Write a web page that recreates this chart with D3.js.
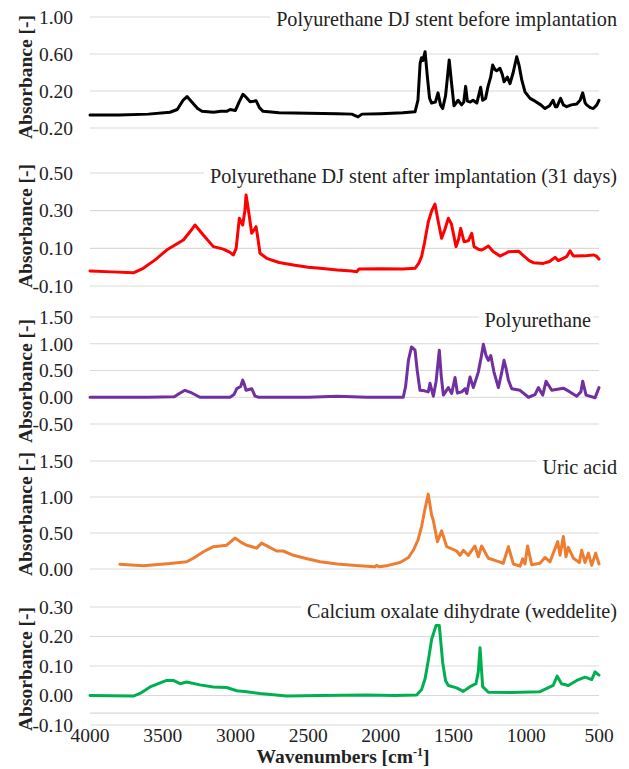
<!DOCTYPE html>
<html>
<head>
<meta charset="utf-8">
<script src="https://cdn.jsdelivr.net/npm/d3@7"></script>
<style>
  body { margin: 0; background: white; }
</style>
</head>
<body>
<div id="viz-container"></div>
<script>
// spectra, [wavenumber, absorbance]
let beforeData = [[4000,-0.06],[3800,-0.06],[3600,-0.05],[3450,-0.03],[3400,0.0],[3360,0.10],[3333,0.14],[3300,0.08],[3260,0.01],[3230,-0.02],[3150,-0.03],[3100,-0.02],[3060,-0.02],[3037,0.0],[3000,-0.01],[2975,0.08],[2948,0.165],[2925,0.13],[2900,0.085],[2875,0.09],[2858,0.095],[2835,0.02],[2810,-0.02],[2700,-0.035],[2500,-0.04],[2300,-0.045],[2200,-0.05],[2157,-0.08],[2130,-0.05],[2000,-0.045],[1850,-0.035],[1765,-0.025],[1745,0.1],[1730,0.5],[1720,0.56],[1710,0.53],[1696,0.625],[1680,0.35],[1665,0.12],[1651,0.07],[1625,0.08],[1607,0.18],[1590,0.05],[1575,0.01],[1555,0.15],[1530,0.535],[1515,0.3],[1497,0.04],[1469,0.1],[1445,0.05],[1430,0.08],[1417,0.25],[1405,0.09],[1385,0.08],[1366,0.10],[1340,0.07],[1314,0.24],[1300,0.1],[1280,0.12],[1263,0.25],[1245,0.35],[1231,0.48],[1215,0.43],[1204,0.42],[1181,0.445],[1165,0.38],[1153,0.30],[1130,0.35],[1112,0.28],[1090,0.40],[1066,0.57],[1050,0.48],[1031,0.32],[1009,0.19],[974,0.12],[940,0.09],[900,0.05],[871,0.01],[840,0.04],[816,0.10],[800,0.03],[789,0.03],[764,0.12],[745,0.05],[722,0.03],[690,0.05],[653,0.06],[630,0.10],[612,0.18],[595,0.07],[585,0.05],[560,0.02],[539,0.01],[515,0.05],[500,0.10]];

let afterData = [[4000,-0.02],[3850,-0.025],[3702,-0.03],[3634,-0.006],[3550,0.04],[3473,0.091],[3358,0.144],[3300,0.20],[3278,0.224],[3221,0.171],[3152,0.109],[3083,0.096],[3040,0.08],[3014,0.065],[2995,0.10],[2973,0.26],[2950,0.224],[2935,0.30],[2927,0.383],[2910,0.30],[2888,0.18],[2870,0.20],[2858,0.215],[2845,0.15],[2831,0.074],[2785,0.047],[2700,0.025],[2602,0.012],[2500,0.0],[2418,-0.006],[2300,-0.015],[2200,-0.02],[2166,-0.024],[2150,-0.01],[2000,-0.008],[1850,-0.01],[1765,-0.006],[1740,0.02],[1720,0.056],[1700,0.13],[1674,0.24],[1650,0.30],[1628,0.335],[1605,0.24],[1582,0.153],[1560,0.20],[1536,0.26],[1515,0.23],[1483,0.109],[1465,0.15],[1451,0.206],[1428,0.135],[1399,0.14],[1375,0.18],[1359,0.109],[1330,0.095],[1307,0.091],[1285,0.10],[1261,0.112],[1226,0.082],[1181,0.059],[1150,0.07],[1123,0.082],[1054,0.085],[1016,0.059],[980,0.035],[951,0.024],[883,0.02],[840,0.03],[802,0.052],[779,0.035],[722,0.056],[699,0.087],[676,0.059],[600,0.06],[539,0.065],[520,0.06],[500,0.043]];

let puData = [[4000,0.0],[3600,0.0],[3420,0.01],[3380,0.08],[3347,0.13],[3300,0.08],[3244,0.0],[3037,0.0],[3010,0.05],[2991,0.16],[2964,0.2],[2950,0.32],[2940,0.25],[2927,0.13],[2888,0.16],[2865,0.02],[2840,0.0],[2500,0.0],[2300,0.02],[2100,0.0],[1846,0.0],[1830,0.2],[1810,0.7],[1789,0.94],[1765,0.88],[1750,0.5],[1731,0.13],[1700,0.12],[1674,0.1],[1662,0.26],[1639,0.02],[1620,0.3],[1598,0.88],[1585,0.4],[1570,0.04],[1536,0.18],[1513,0.07],[1490,0.37],[1474,0.08],[1444,0.1],[1421,0.16],[1409,0.07],[1387,0.38],[1364,0.18],[1330,0.47],[1310,0.75],[1295,0.99],[1277,0.78],[1261,0.69],[1244,0.78],[1222,0.47],[1192,0.18],[1170,0.45],[1153,0.69],[1140,0.55],[1123,0.32],[1100,0.16],[1043,0.13],[985,0.0],[940,0.05],[917,0.18],[887,0.04],[864,0.3],[825,0.13],[745,0.17],[700,0.1],[653,0.02],[625,0.1],[612,0.3],[589,0.04],[527,-0.01],[500,0.18]];

let uricData = [[3794,0.065],[3634,0.046],[3450,0.075],[3335,0.10],[3290,0.15],[3220,0.24],[3152,0.31],[3060,0.33],[3003,0.43],[2960,0.37],[2923,0.33],[2854,0.29],[2820,0.36],[2774,0.31],[2717,0.25],[2671,0.25],[2602,0.19],[2500,0.14],[2418,0.10],[2300,0.07],[2150,0.045],[2040,0.03],[2029,0.05],[2010,0.03],[1950,0.05],[1868,0.09],[1810,0.16],[1777,0.26],[1745,0.40],[1720,0.59],[1695,0.85],[1674,1.04],[1651,0.75],[1640,0.68],[1611,0.38],[1582,0.53],[1547,0.31],[1479,0.25],[1456,0.19],[1433,0.26],[1399,0.19],[1353,0.32],[1330,0.17],[1307,0.32],[1261,0.15],[1200,0.11],[1158,0.08],[1123,0.31],[1089,0.07],[1043,0.04],[1025,0.14],[1009,0.07],[991,0.32],[963,0.06],[906,0.08],[871,0.16],[837,0.10],[784,0.38],[768,0.19],[745,0.45],[727,0.17],[711,0.30],[676,0.15],[635,0.09],[619,0.26],[596,0.09],[573,0.22],[550,0.05],[523,0.22],[500,0.07]];

let oxalateData = [[4000,0.0],[3702,-0.002],[3656,0.007],[3587,0.029],[3473,0.051],[3427,0.051],[3381,0.04],[3335,0.046],[3244,0.036],[3152,0.029],[3060,0.027],[2991,0.016],[2923,0.013],[2831,0.007],[2648,-0.002],[2418,0.0],[2100,0.002],[1900,0.0],[1754,0.002],[1720,0.02],[1696,0.057],[1670,0.13],[1651,0.19],[1621,0.237],[1598,0.237],[1575,0.112],[1555,0.05],[1536,0.034],[1479,0.026],[1433,0.014],[1387,0.03],[1346,0.04],[1330,0.08],[1318,0.162],[1300,0.03],[1261,0.011],[1100,0.01],[906,0.013],[815,0.034],[788,0.066],[758,0.04],[711,0.034],[653,0.051],[596,0.062],[550,0.054],[527,0.08],[500,0.069]];

let titles = ["Polyurethane DJ stent before implantation",
  "Polyurethane DJ stent after implantation (31 days)",
  "Polyurethane",
  "Uric acid",
  "Calcium oxalate dihydrate (weddelite)"];
let yTicks = [[-0.2,0.2,0.6,1.0],[-0.1,0.1,0.3,0.5],[-0.5,0,0.5,1.0,1.5],[0,0.5,1.0,1.5],[-0.1,0,0.1,0.2,0.3]];
let xTicks = [4000,3500,3000,2500,2000,1500,1000,500];

let svgWidth = 629;
let svgHeight = 769;

let viz = d3.select("#viz-container")
  .append("svg")
    .attr("width", svgWidth)
    .attr("height", svgHeight)
    .style("background-color", "white");

let x = d3.scaleLinear().domain([4000, 500]).range([90, 599]);

// panel layout: y range in px, title end + baseline, label centre
let panels = [
  {data: beforeData, color: "#000000", top: 17, bottom: 128, titleX: 617, titleY: 26, labelY: 77},
  {data: afterData, color: "#ff0000", top: 173, bottom: 286, titleX: 617, titleY: 183, labelY: 226},
  {data: puData, color: "#7030a0", top: 317, bottom: 424, titleX: 591, titleY: 327, labelY: 381},
  {data: uricData, color: "#ed7d31", top: 461, bottom: 569, titleX: 617, titleY: 474, labelY: 514},
  {data: oxalateData, color: "#00b050", top: 607, bottom: 725, titleX: 617, titleY: 618, labelY: 669}
];

let font = "'Liberation Serif', 'Times New Roman', serif";

panels.forEach(function(p, i){
  let ticks = yTicks[i];
  let y = d3.scaleLinear().domain([ticks[0], ticks[ticks.length-1]]).range([p.bottom, p.top]);
  let g = viz.append("g").attr("class", "panel");

  g.selectAll(".grid").data(ticks).enter()
    .append("line")
    .attr("x1", x(4000)).attr("x2", x(500))
    .attr("y1", d => y(d)).attr("y2", d => y(d))
    .attr("stroke", "#d9d9d9")
    .attr("stroke-width", 1.2);

  // the bottom chart has one extra rule above its last gridline
  if(i == 4){
    g.append("line")
      .attr("x1", x(4000)).attr("x2", x(500))
      .attr("y1", y(-0.06)).attr("y2", y(-0.06))
      .attr("stroke", "#d9d9d9")
      .attr("stroke-width", 1.2);
  }

  g.selectAll(".tick").data(ticks).enter()
    .append("text")
    .text(d => d.toFixed(2))
    .attr("x", 73)
    .attr("y", d => y(d))
    .attr("dy", "0.35em")
    .attr("text-anchor", "end")
    .attr("font-family", font)
    .attr("font-size", 19.5)
    .attr("fill", "#222");

  g.append("text")
    .text("Absorbance [-]")
    .attr("transform", "translate(32," + p.labelY + ") rotate(-90)")
    .attr("text-anchor", "middle")
    .attr("font-family", font)
    .attr("font-weight", "bold")
    .attr("font-size", 19.5)
    .attr("fill", "#222");

  let line = d3.line()
    .x(d => x(d[0]))
    .y(d => y(d[1]));

  g.append("path")
    .datum(p.data)
    .attr("d", line)
    .attr("fill", "none")
    .attr("stroke", p.color)
    .attr("stroke-width", 3)
    .attr("stroke-linejoin", "round")
    .attr("stroke-linecap", "round");

  let title = g.append("text")
    .text(titles[i])
    .attr("x", p.titleX)
    .attr("y", p.titleY)
    .attr("text-anchor", "end")
    .attr("font-family", font)
    .attr("font-size", 20.2)
    .attr("fill", "#222");
  let bb = title.node().getBBox();
  g.insert("rect", "text")
    .attr("x", bb.x - 6).attr("y", bb.y + 2)
    .attr("width", bb.width + 8).attr("height", bb.height - 4)
    .attr("fill", "white");
});

// x axis labels under the last chart
viz.selectAll(".xtick").data(xTicks).enter()
  .append("text")
  .text(d => d)
  .attr("x", d => x(d))
  .attr("y", 742)
  .attr("text-anchor", "middle")
  .attr("font-family", font)
  .attr("font-size", 19.5)
  .attr("fill", "#222");

let xLabel = viz.append("text")
  .attr("x", 343)
  .attr("y", 763)
  .attr("text-anchor", "middle")
  .attr("font-family", font)
  .attr("font-weight", "bold")
  .attr("font-size", 19.5)
  .attr("fill", "#222");
xLabel.append("tspan").text("Wavenumbers [cm");
xLabel.append("tspan").text("-1").attr("font-size", 12).attr("dy", -7);
xLabel.append("tspan").text("]").attr("dy", 7);
</script>
</body>
</html>
